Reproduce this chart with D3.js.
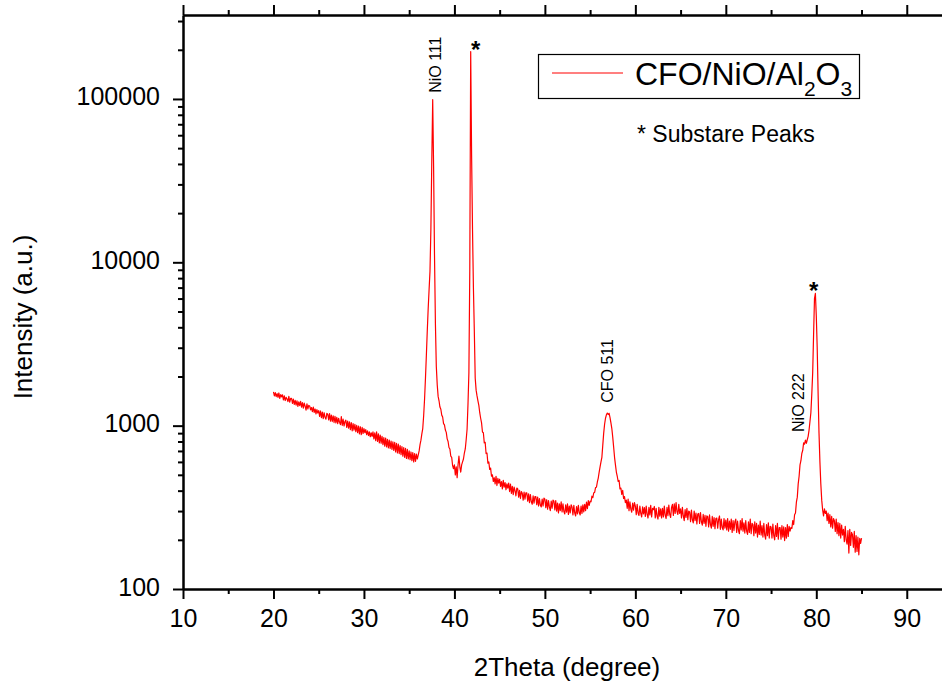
<script src="https://d3js.org/d3.v7.min.js"></script>
<style>
  body { margin: 0; background: #fff; }
  text { font-family: "Liberation Sans", Arial, sans-serif; fill: #000; }
</style>
<body></body>
<script>
// XRD scan, 2theta from 20 to 85 deg, step 0.1 deg (one row per degree)
const scanStart = 20;
const scanStep = 0.1;
const intensity = [
  1610, 1520, 1595, 1505, 1570, 1490, 1585, 1470, 1550, 1500, // 20
  1545, 1440, 1520, 1425, 1490, 1455, 1405, 1510, 1395, 1470, // 21
  1470, 1370, 1455, 1350, 1430, 1335, 1420, 1310, 1400, 1325, // 22
  1410, 1300, 1385, 1280, 1375, 1315, 1245, 1360, 1265, 1330, // 23
  1320, 1250, 1290, 1220, 1300, 1205, 1265, 1180, 1255, 1195, // 24
  1235, 1140, 1230, 1120, 1210, 1105, 1200, 1125, 1095, 1190, // 25
  1175, 1085, 1185, 1065, 1160, 1060, 1150, 1045, 1140, 1040, // 26
  1125, 1030, 1110, 1050, 1015, 1135, 1005, 1095, 995, 1060,  // 27
  1080, 975, 1065, 965, 1055, 945, 1045, 930, 1030, 940,      // 28
  1020, 920, 1005, 905, 995, 890, 985, 880, 975, 895,         // 29
  960, 905, 945, 880, 930, 870, 915, 855, 905, 860,           // 30
  915, 830, 905, 810, 915, 800, 890, 785, 875, 780,           // 31
  860, 765, 845, 750, 840, 740, 825, 730, 815, 725,           // 32
  805, 715, 795, 705, 790, 690, 780, 680, 770, 675,           // 33
  755, 665, 745, 650, 735, 640, 725, 630, 715, 625,           // 34
  700, 620, 690, 610, 685, 600, 675, 605, 670, 625,           // 35
  660, 700, 765, 815, 890, 960, 1150, 1450, 1950, 2700,       // 36
  3800, 5200, 6800, 8800, 16000, 42000, 99000, 38000, 11000, 4200, // 37
  2300, 1780, 1510, 1420, 1300, 1260, 1160, 1130, 1030, 1010, // 38
  940, 910, 830, 800, 735, 720, 650, 640, 570, 545,           // 39
  575, 500, 560, 480, 575, 650, 560, 520, 575, 600,           // 40
  625, 680, 720, 820, 950, 1350, 2100, 9000, 195000, 45000,   // 41
  16000, 7000, 3800, 1950, 1650, 1520, 1420, 1330, 1200, 1110, // 42
  1040, 915, 905, 785, 790, 675, 680, 590, 600, 540,          // 43
  550, 490, 500, 455, 480, 440, 490, 430, 475, 445,           // 44
  470, 425, 455, 410, 462, 420, 448, 405, 440, 415,           // 45
  445, 395, 438, 385, 425, 378, 420, 400, 372, 415,           // 46
  410, 365, 402, 358, 395, 385, 350, 392, 355, 388,           // 47
  388, 345, 382, 338, 378, 342, 330, 372, 335, 368,           // 48
  368, 328, 365, 322, 358, 326, 318, 355, 322, 360,           // 49
  355, 315, 352, 308, 348, 318, 302, 345, 312, 350,           // 50
  345, 305, 348, 300, 336, 292, 332, 302, 342, 296,           // 51
  332, 298, 288, 328, 295, 332, 286, 322, 292, 328,           // 52
  318, 284, 325, 292, 280, 320, 288, 325, 294, 284,           // 53
  322, 290, 328, 296, 330, 302, 340, 310, 348, 325,           // 54
  345, 342, 370, 362, 388, 390, 418, 420, 452, 478,           // 55
  520, 560, 600, 640, 760, 900, 1020, 1110, 1165, 1195,       // 56
  1170, 1190, 1120, 1040, 960, 850, 740, 640, 575, 520,       // 57
  490, 455, 462, 410, 415, 380, 402, 358, 368, 338,           // 58
  350, 312, 355, 302, 342, 308, 295, 336, 304, 338,           // 59
  322, 285, 330, 292, 282, 322, 290, 276, 318, 288,           // 60
  315, 278, 322, 286, 272, 316, 284, 325, 276, 312,           // 61
  306, 320, 272, 312, 280, 268, 316, 279, 310, 272,           // 62
  312, 276, 322, 283, 270, 316, 281, 326, 286, 274,           // 63
  316, 330, 282, 332, 290, 338, 298, 286, 330, 290,           // 64
  310, 272, 316, 280, 262, 306, 274, 312, 266, 300,           // 65
  296, 258, 304, 266, 254, 300, 262, 292, 250, 288,           // 66
  290, 252, 294, 258, 246, 286, 252, 282, 242, 280,           // 67
  278, 240, 284, 248, 236, 278, 242, 274, 234, 270,           // 68
  272, 236, 266, 280, 232, 268, 238, 230, 270, 236,           // 69
  264, 230, 270, 226, 260, 232, 268, 222, 262, 228,           // 70
  258, 268, 222, 260, 228, 218, 262, 230, 270, 226,           // 71
  254, 220, 262, 226, 216, 258, 222, 268, 218, 252,           // 72
  248, 212, 258, 220, 252, 208, 246, 216, 260, 214,           // 73
  244, 208, 252, 214, 202, 248, 212, 254, 205, 242,           // 74
  240, 205, 250, 212, 200, 244, 210, 252, 202, 238,           // 75
  238, 202, 244, 208, 240, 198, 238, 205, 248, 210,           // 76
  242, 226, 238, 235, 262, 248, 285, 292, 340, 365,           // 77
  440, 490, 575, 610, 675, 705, 785, 770, 815, 780,           // 78
  820, 860, 940, 1060, 1200, 1550, 2100, 3600, 6000, 6450,    // 79
  4700, 3000, 1580, 900, 600, 440, 350, 305, 280, 310,        // 80
  290, 300, 262, 292, 252, 285, 240, 278, 236, 270,           // 81
  262, 225, 268, 218, 255, 212, 252, 205, 246, 214,           // 82
  232, 195, 242, 200, 188, 228, 166, 232, 185, 222,           // 83
  215, 180, 225, 168, 212, 170, 208, 162, 204, 190,           // 84
  205                                                         // 85
];

const xMajor = [10, 20, 30, 40, 50, 60, 70, 80, 90];
const xMinor = [15, 25, 35, 45, 55, 65, 75, 85, 95];
const yMajor = [100, 1000, 10000, 100000];
const yMinor = [200, 300, 400, 500, 600, 700, 800, 900,
  2000, 3000, 4000, 5000, 6000, 7000, 8000, 9000,
  20000, 30000, 40000, 50000, 60000, 70000, 80000, 90000,
  200000, 300000];

const peakLabels = ["NiO 111", "CFO 511", "NiO 222"];
const peakLabelAngle = [37.85, 56.9, 78.0];
const peakLabelBase = [109000, 1380, 915];
const starAngle = [42.35, 79.7];
const starBase = [178000, 5950];

const seriesName = "CFO/NiO/Al";
const noteText = "* Substare Peaks";

const scan = intensity.map((v, i) => [scanStart + i * scanStep, v]);

const svg = d3.select("body").append("svg")
  .attr("width", 942).attr("height", 686);

const x = d3.scaleLinear().domain([10, 95]).range([183, 952]);
const y = d3.scaleLog().domain([100, 326600]).range([589, 15]);

function thick(g) {
  g.select(".domain").attr("stroke-width", 2);
  g.selectAll(".tick line").attr("stroke-width", 2);
  g.selectAll(".tick text").attr("font-size", 25)
    .attr("font-family", "'Liberation Sans', Arial, sans-serif");
}

// bottom
svg.append("g").attr("transform", "translate(0,589)")
  .call(d3.axisBottom(x).tickValues(xMinor).tickSize(5).tickSizeOuter(0).tickFormat(""))
  .call(thick);
svg.append("g").attr("transform", "translate(0,589)")
  .call(d3.axisBottom(x).tickValues(xMajor).tickSize(10).tickSizeOuter(0).tickPadding(10).tickFormat(d3.format("d")))
  .call(thick);
// top
svg.append("g").attr("transform", "translate(0,15)")
  .call(d3.axisTop(x).tickValues(xMinor).tickSize(5).tickSizeOuter(0).tickFormat(""))
  .call(thick);
svg.append("g").attr("transform", "translate(0,15)")
  .call(d3.axisTop(x).tickValues(xMajor).tickSize(10).tickSizeOuter(0).tickFormat(""))
  .call(thick);
// left
svg.append("g").attr("transform", "translate(183,0)")
  .call(d3.axisLeft(y).tickValues(yMinor).tickSize(5).tickSizeOuter(0).tickFormat(""))
  .call(thick);
svg.append("g").attr("transform", "translate(183,0)")
  .call(d3.axisLeft(y).tickValues(yMajor).tickSize(10).tickSizeOuter(0).tickPadding(13).tickFormat(d3.format("d")))
  .call(thick)
  .selectAll(".tick text").attr("dy", "0.24em");

// the scan
svg.append("path")
  .datum(scan)
  .attr("fill", "none")
  .attr("stroke", "#ff0000")
  .attr("stroke-width", 1.2)
  .attr("stroke-linejoin", "round")
  .attr("d", d3.line().x(d => x(d[0])).y(d => y(d[1])));

// peak labels
svg.selectAll(".peak")
  .data(peakLabels)
  .enter().append("text")
  .attr("class", "peak")
  .attr("transform", (d, i) => `translate(${x(peakLabelAngle[i])},${y(peakLabelBase[i])}) rotate(-90)`)
  .attr("dy", "0.35em")
  .attr("font-size", 16)
  .text(d => d);

svg.selectAll(".star")
  .data(starAngle)
  .enter().append("text")
  .attr("class", "star")
  .attr("x", d => x(d))
  .attr("y", (d, i) => y(starBase[i]))
  .attr("text-anchor", "middle")
  .attr("font-size", 24)
  .attr("font-weight", "bold")
  .text("*");

// axis titles
svg.append("text")
  .attr("x", 567).attr("y", 676)
  .attr("text-anchor", "middle")
  .attr("font-size", 26)
  .text("2Theta (degree)");
svg.append("text")
  .attr("transform", "translate(32,317) rotate(-90)")
  .attr("text-anchor", "middle")
  .attr("font-size", 26)
  .text("Intensity (a.u.)");

// legend
const legend = svg.append("g");
legend.append("rect")
  .attr("x", 538.5).attr("y", 54.5).attr("width", 321).attr("height", 44)
  .attr("fill", "#fff").attr("stroke", "#000").attr("stroke-width", 1.2);
legend.append("line")
  .attr("x1", 552).attr("x2", 623).attr("y1", 73).attr("y2", 73)
  .attr("stroke", "#ff0000").attr("stroke-width", 1.2);
const lt = legend.append("text").attr("x", 635).attr("y", 85).attr("font-size", 32);
lt.append("tspan").text(seriesName);
lt.append("tspan").attr("font-size", 21).attr("dy", 11).text("2");
lt.append("tspan").attr("dy", -11).text("O");
lt.append("tspan").attr("font-size", 21).attr("dy", 11).text("3");

svg.append("text")
  .attr("x", 637).attr("y", 142)
  .attr("font-size", 23)
  .text(noteText);
</script>
